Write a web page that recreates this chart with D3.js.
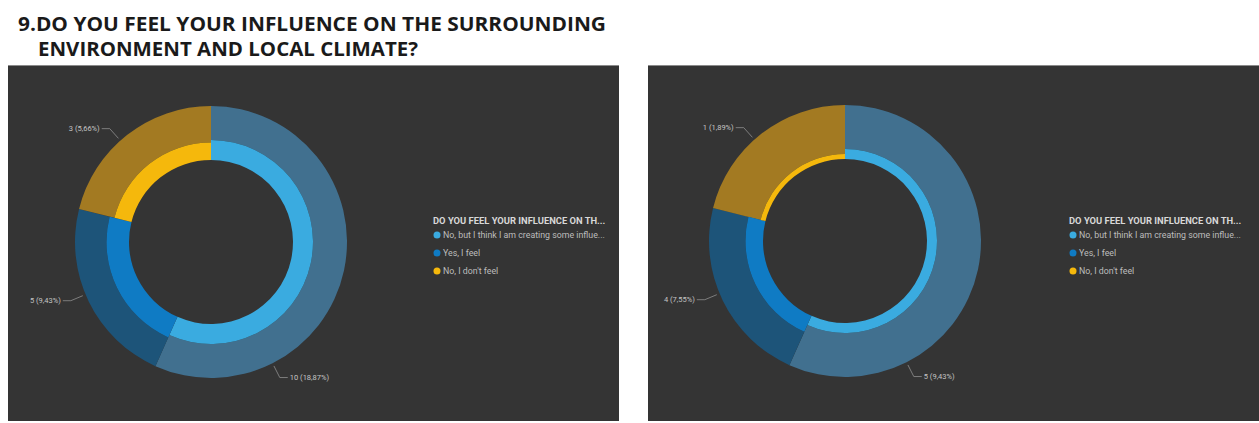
<!DOCTYPE html>
<html>
<head>
<meta charset="utf-8">
<script src="https://cdn.jsdelivr.net/npm/d3@7"></script>
<style>
  html, body { margin: 0; padding: 0; background: #fff; }
  svg { display: block; }
</style>
</head>
<body>
<svg id="chart"></svg>
<script>
// ---- data ----
const titleLines = ['9.DO YOU FEEL YOUR INFLUENCE ON THE SURROUNDING', 'ENVIRONMENT AND LOCAL CLIMATE?']
const legendTitle = 'DO YOU FEEL YOUR INFLUENCE ON TH...'
const categories = ['No, but I think I am creating some influe...', 'Yes, I feel', "No, I don't feel"]
const totalAnswers = 53

// angular share of each slice (same in both donuts)
const ringShare = [56.7, 22.2, 21.1]

const leftCounts = [10, 5, 3]
const rightCounts = [5, 4, 1]

// inner ring depth measure (0-10)
const leftInnerScore = [8, 9, 7]
const rightInnerScore = [4, 7, 2]

// ---- styles ----
const outerColors = ['#41708f', '#1d5479', '#a37a22']
const innerColors = ['#3aabe0', '#0f7bc4', '#f5b80c']
const labelAt = [0.75, 0.54, 0.45]   // where along each slice its label sits

const W = 1259, H = 423
const svg = d3.select('#chart').attr('width', W).attr('height', H)

svg.append('rect').attr('width', W).attr('height', H).attr('fill', '#fff')

// title
svg.append('text')
  .attr('x', 18).attr('y', 31)
  .attr('font-family', 'Open Sans, sans-serif')
  .attr('font-weight', 700)
  .attr('font-size', 20)
  .attr('fill', '#1a1a1a')
  .attr('textLength', 588)
  .attr('lengthAdjust', 'spacingAndGlyphs')
  .text(titleLines[0])

svg.append('text')
  .attr('x', 38).attr('y', 56)
  .attr('font-family', 'Open Sans, sans-serif')
  .attr('font-weight', 700)
  .attr('font-size', 20)
  .attr('fill', '#1a1a1a')
  .attr('textLength', 380)
  .attr('lengthAdjust', 'spacingAndGlyphs')
  .text(titleLines[1])

const fmt = v => d3.format('.2f')(v).replace('.', ',')

function drawPanel(px, counts, innerScore, cx, cy, legendX) {
  const g = svg.append('g')

  g.append('rect')
    .attr('x', px).attr('y', 65)
    .attr('width', 611).attr('height', 356)
    .attr('fill', '#343434')
  g.append('line')
    .attr('x1', px).attr('x2', px + 611)
    .attr('y1', 65.5).attr('y2', 65.5)
    .attr('stroke', '#8a8a8a')

  const rOuter = 136, rHole = 82

  const pie = d3.pie().sort(null).value(d => d.share)
  const rows = ringShare.map((s, i) => ({ share: s, count: counts[i], score: innerScore[i], i: i }))
  const arcs = pie(rows)

  const depth = d3.scaleLinear().domain([0, 10]).range([0, 25])

  const donut = g.append('g').attr('transform', `translate(${cx},${cy})`)

  // outer ring reaches down to the inner ring of the same slice
  donut.selectAll('path.outer')
    .data(arcs)
    .join('path')
    .attr('class', 'outer')
    .attr('d', d => d3.arc().innerRadius(rHole + depth(d.data.score)).outerRadius(rOuter)(d))
    .attr('fill', d => outerColors[d.data.i])

  donut.selectAll('path.inner')
    .data(arcs)
    .join('path')
    .attr('class', 'inner')
    .attr('d', d => d3.arc().innerRadius(rHole).outerRadius(rHole + depth(d.data.score))(d))
    .attr('fill', d => innerColors[d.data.i])

  // data labels with leader lines
  arcs.forEach(d => {
    const a = d.startAngle + (d.endAngle - d.startAngle) * labelAt[d.data.i]
    const pt = r => [Math.sin(a) * r, -Math.cos(a) * r]
    const p0 = pt(rOuter + 3), p1 = pt(rOuter + 16)
    const side = Math.sin(a) >= 0 ? 1 : -1
    const p2 = [p1[0] + side * 8, p1[1]]
    donut.append('path')
      .attr('d', d3.line()([p0, p1, p2]))
      .attr('fill', 'none')
      .attr('stroke', '#8f8f8f')
      .attr('stroke-width', 0.8)
    donut.append('text')
      .attr('x', p2[0] + side * 2)
      .attr('y', p2[1])
      .attr('dy', '0.35em')
      .attr('text-anchor', side > 0 ? 'start' : 'end')
      .attr('font-family', 'Roboto, sans-serif')
      .attr('font-size', 7.5)
      .attr('fill', '#c4c4c4')
      .text(`${d.data.count} (${fmt(d.data.count / totalAnswers * 100)}%)`)
  })

  // legend
  const lg = g.append('g').attr('transform', `translate(${legendX},221)`)
  lg.append('text')
    .attr('x', 0).attr('y', 0)
    .attr('dy', '0.35em')
    .attr('font-family', 'Roboto, sans-serif')
    .attr('font-weight', 700)
    .attr('font-size', 9.4)
    .attr('fill', '#d8d8d8')
    .text(legendTitle)

  const item = lg.selectAll('g.item')
    .data(categories)
    .join('g')
    .attr('class', 'item')
    .attr('transform', (d, i) => `translate(4,${14 + i * 18})`)
  item.append('circle')
    .attr('r', 3.5)
    .attr('fill', (d, i) => innerColors[i])
  item.append('text')
    .attr('x', 6)
    .attr('dy', '0.35em')
    .attr('font-family', 'Roboto, sans-serif')
    .attr('font-size', 8.8)
    .attr('fill', '#bdbdbd')
    .text(d => d)
}

drawPanel(8, leftCounts, leftInnerScore, 211, 242, 433)
drawPanel(648, rightCounts, rightInnerScore, 845, 241, 1069)
</script>
</body>
</html>
